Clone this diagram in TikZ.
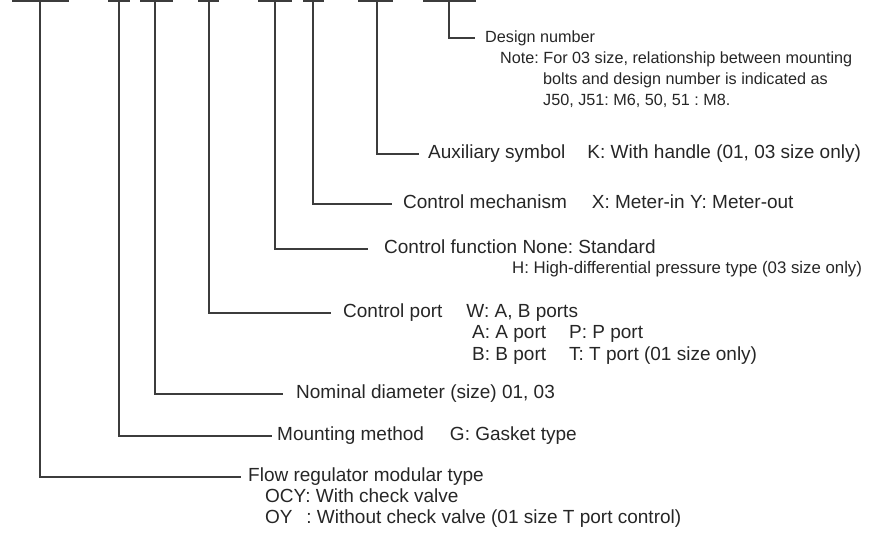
\documentclass[tikz,border=0pt]{standalone}
\usepackage{xcolor}
\usepackage{fontspec}
\setmainfont{Liberation Sans}
\usepackage{tikz}
\usetikzlibrary{positioning}
\definecolor{ink}{HTML}{262626}
\tikzstyle{leader} = [line width=1.1pt, draw=ink!90]
\tikzstyle{label} = [inner sep=0pt, anchor=west, text=ink, font=\fontsize{19}{22}\selectfont\frenchspacing, text height=13pt, text depth=4pt]
\tikzstyle{small} = [label, font=\fontsize{16.2}{19}\selectfont\frenchspacing, text height=11.5pt, text depth=3.5pt]
\tikzstyle{tiny} = [label, font=\fontsize{16.8}{19}\selectfont\frenchspacing, text height=11.5pt, text depth=3.5pt]

\begin{document}
\begin{tikzpicture}[x=1pt, y=-1pt]
    \useasboundingbox (0,0) rectangle (873,536);

    % Code bars
    \foreach \l/\r/\v/\n in {12/69/40/flowbar, 108/130/119/mountbar, 140/173/155/sizebar,
        198/219/209/portbar, 258/292/275/funcbar, 303/324/313/mechbar,
        358/393/377/auxbar, 423/476/449/designbar} {
        \draw[leader] (\l,1) -- (\r,1);
        \coordinate (\n) at (\v,1);
    }

    % Labels
    \node[small] (design) at (485,38) {Design number};
    \node[small] (note1) at (500,59) {Note: For 03 size, relationship between mounting};
    \node[small] (note2) at (543,80) {bolts and design number is indicated as};
    \node[small] (note3) at (543,101) {J50, J51: M6, 50, 51 : M8.};

    \node[label] (aux) at (428,154) {Auxiliary symbol\hspace{22pt}K: With handle (01, 03 size only)};
    \node[label] (mech) at (403,204) {Control mechanism\hspace{25pt}X: Meter-in Y: Meter-out};
    \node[label] (func) at (384,249) {Control function None: Standard};
    \node[tiny] (func2) at (512,269) {H: High-differential pressure type (03 size only)};

    \node[label] (port) at (343,313) {Control port\hspace{24pt}W: A, B ports};
    \node[label] (port2) at (472,334) {A: A port\hspace{23pt}P: P port};
    \node[label] (port3) at (472,356) {B: B port\hspace{23pt}T: T port (01 size only)};

    \node[label] (size) at (296,394) {Nominal diameter (size) 01, 03};
    \node[label] (mount) at (277,436) {Mounting method\hspace{26pt}G: Gasket type};

    \node[label] (flow) at (248,477) {Flow regulator modular type};
    \node[label] (flow2) at (265,498) {OCY: With check valve};
    \node[label] (flow3) at (265,519) {\rlap{OY}\hphantom{OCY}: Without check valve (01 size T port control)};

    % Connections
    \foreach \b/\t/\g in {designbar/design/10, auxbar/aux/9, mechbar/mech/11, funcbar/func/16,
        portbar/port/12, sizebar/size/13, mountbar/mount/5, flowbar/flow/7} {
        \draw[leader] (\b) |- ([xshift=-\g pt]\t.west);
    }

\end{tikzpicture}
\end{document}
